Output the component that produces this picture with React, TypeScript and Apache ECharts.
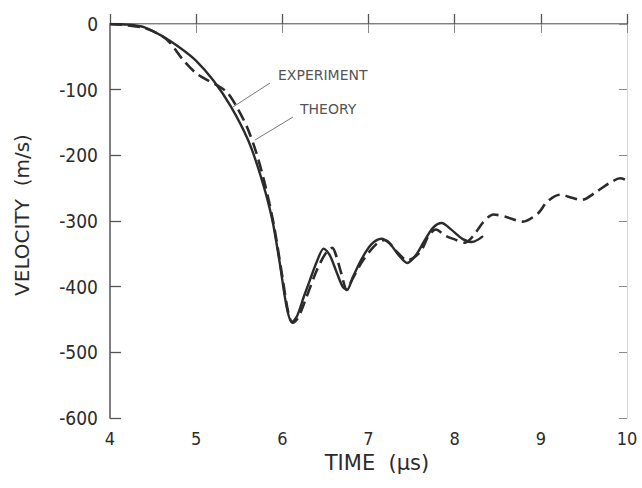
import React, { useEffect, useRef } from "react";
import * as echarts from "echarts";

// Experiment (solid) : [time µs, velocity m/s]
const experimentTime = [4.0, 4.2, 4.4, 4.6, 4.8, 5.0, 5.2, 5.4, 5.6, 5.75, 5.88, 5.97, 6.05, 6.11, 6.17, 6.25, 6.32, 6.4, 6.48, 6.55, 6.63, 6.7, 6.75, 6.82, 6.92, 7.03, 7.15, 7.25, 7.35, 7.45, 7.55, 7.65, 7.75, 7.85, 7.95, 8.1, 8.2, 8.33];
const experimentVel = [0, -1, -5, -18, -35, -56, -86, -125, -176, -232, -296, -364, -431, -454, -445, -415, -390, -362, -342, -352, -378, -400, -405, -385, -358, -336, -327, -335, -352, -364, -352, -330, -310, -303, -312, -328, -332, -323];

// Theory (dashed)
const theoryTime = [4.0, 4.2, 4.4, 4.6, 4.7, 4.85, 5.0, 5.15, 5.25, 5.36, 5.47, 5.59, 5.7, 5.8, 5.9, 6.0, 6.07, 6.12, 6.18, 6.28, 6.4, 6.5, 6.58, 6.63, 6.68, 6.75, 6.8, 6.94, 7.1, 7.19, 7.33, 7.45, 7.6, 7.7, 7.78, 7.9, 8.0, 8.12, 8.22, 8.33, 8.45, 8.6, 8.79, 8.97, 9.07, 9.22, 9.37, 9.47, 9.65, 9.8, 9.92, 10.0];
const theoryVel = [0, -2, -6, -18, -29, -55, -75, -87, -94, -104, -126, -157, -197, -245, -305, -385, -440, -455, -448, -416, -375, -350, -341, -355, -378, -405, -392, -359, -334, -329, -347, -360, -347, -322, -313, -323, -328, -333, -322, -302, -290, -294, -301, -288, -271, -260, -265, -268, -255, -242, -235, -238];

const xTicks = { min: 4, max: 10, interval: 1 };
const yTicks = { min: -600, max: 0, interval: 100 };

const FONT = "'DejaVu Sans Condensed', 'DejaVu Sans', sans-serif";
const INK = "#2b2b2b";

export default function App() {
  const ref = useRef<HTMLDivElement>(null);
  useEffect(() => {
    if (!ref.current) return;
    const chart = echarts.init(ref.current, undefined, { renderer: "svg" });
    const exp = experimentTime.map((t, i) => [t, experimentVel[i]]);
    const th = theoryTime.map((t, i) => [t, theoryVel[i]]);
    chart.setOption({
      animation: false,
      backgroundColor: "#ffffff",
      grid: { left: 110, top: 24, right: 15, bottom: 70 },
      xAxis: [
        {
          type: "value",
          min: xTicks.min,
          max: xTicks.max,
          interval: xTicks.interval,
          position: "bottom",
          axisLine: { lineStyle: { color: "#555", width: 1.5 } },
          axisTick: { inside: true, length: 10, lineStyle: { color: "#555", width: 1.3 } },
          axisLabel: { color: INK, fontSize: 18, fontFamily: FONT, margin: 11 },
          splitLine: { show: false },
        },
        {
          type: "value",
          min: xTicks.min,
          max: xTicks.max,
          interval: xTicks.interval,
          position: "top",
          axisLine: { lineStyle: { color: "#c8c8c8", width: 1 } },
          axisTick: { inside: true, length: 9, lineStyle: { color: "#888", width: 1 } },
          axisLabel: { show: false },
          splitLine: { show: false },
        },
      ],
      yAxis: [
        {
          type: "value",
          min: yTicks.min,
          max: yTicks.max,
          interval: yTicks.interval,
          position: "left",
          axisLine: { show: true, lineStyle: { color: "#555", width: 1.5 } },
          axisTick: { show: true, inside: true, length: 11, lineStyle: { color: "#555", width: 1.3 } },
          axisLabel: { color: INK, fontSize: 19, fontFamily: FONT, margin: 12 },
          splitLine: { show: false },
        },
        {
          type: "value",
          min: yTicks.min,
          max: yTicks.max,
          interval: yTicks.interval,
          position: "right",
          axisLine: { show: true, lineStyle: { color: "#d8d8d8", width: 1 } },
          axisTick: { show: true, inside: true, length: 8, lineStyle: { color: "#888", width: 1 } },
          axisLabel: { show: false },
          splitLine: { show: false },
        },
      ],
      series: [
        {
          name: "EXPERIMENT",
          type: "line",
          data: exp,
          smooth: 0.3,
          showSymbol: false,
          lineStyle: { color: INK, width: 2.4, type: "solid" },
        },
        {
          name: "THEORY",
          type: "line",
          data: th,
          smooth: 0.3,
          showSymbol: false,
          lineStyle: { color: INK, width: 2.6, type: [12, 6] },
        },
      ],
      graphic: [
        {
          type: "text",
          x: 278,
          y: 75,
          style: { text: "EXPERIMENT", fontSize: 14, fontFamily: "'DejaVu Sans', sans-serif", fill: "#555", textVerticalAlign: "middle", textAlign: "left" },
        },
        {
          type: "text",
          x: 300,
          y: 109,
          style: { text: "THEORY", fontSize: 14, fontFamily: "'DejaVu Sans', sans-serif", fill: "#555", textVerticalAlign: "middle", textAlign: "left" },
        },
        { type: "line", shape: { x1: 270, y1: 83, x2: 233, y2: 107 }, style: { stroke: "#777", lineWidth: 1 } },
        { type: "line", shape: { x1: 293, y1: 117, x2: 255, y2: 140 }, style: { stroke: "#777", lineWidth: 1 } },
        {
          type: "text",
          x: 22,
          y: 215,
          rotation: Math.PI / 2,
          style: { text: "VELOCITY  (m/s)", fontSize: 20, fontFamily: "'DejaVu Sans', sans-serif", fill: INK, textAlign: "center", textVerticalAlign: "middle" },
        },
        {
          type: "text",
          x: 377,
          y: 463,
          style: { text: "TIME  (μs)", fontSize: 21, fontFamily: "'DejaVu Sans', sans-serif", fill: INK, textAlign: "center", textVerticalAlign: "middle" },
        },
      ],
    });
    return () => chart.dispose();
  }, []);
  return <div ref={ref} style={{ position: "fixed", left: 0, top: 0, width: 642, height: 488 }} />;
}
